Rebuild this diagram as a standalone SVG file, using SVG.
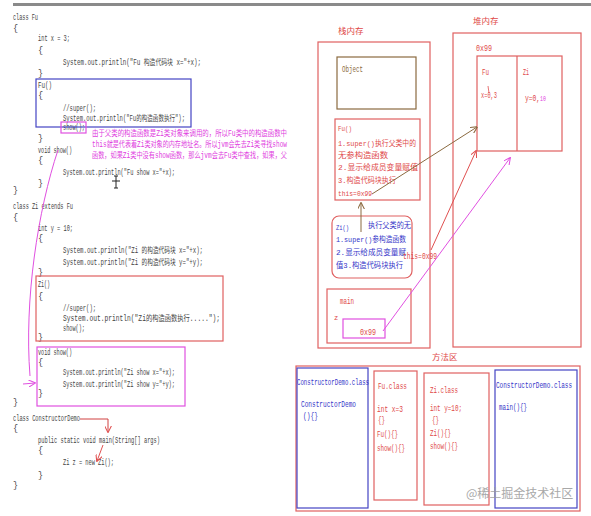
<svg xmlns="http://www.w3.org/2000/svg" width="591" height="516" viewBox="0 0 591 516">
<style>
.code{font-family:"Liberation Mono","Noto Sans CJK SC",monospace;font-size:8.5px;fill:#444}
.note{font-family:"Liberation Mono","Noto Sans CJK SC",monospace;font-size:8.5px;fill:#e040e0}
.rt{font-family:"Liberation Mono","Noto Sans CJK SC",monospace;font-size:9px;fill:#e04848}
.bt{font-family:"Liberation Mono","Noto Sans CJK SC",monospace;font-size:9px;fill:#3434c8}
.st{font-size:8px}
.lbl{font-family:"Noto Sans CJK SC",sans-serif;font-size:8.5px;fill:#e04848}
.rbox{fill:none;stroke:#e06060;stroke-width:1.2}
.bbox{fill:none;stroke:#4444c4;stroke-width:1.2}
.mbox{fill:none;stroke:#e050e0;stroke-width:1.2}
</style>
<defs>
<marker id="ar" viewBox="0 0 10 10" refX="9" refY="5" markerWidth="7" markerHeight="7" orient="auto"><path d="M0,0 L10,5 L0,10" fill="none" stroke="#e05050" stroke-width="1.5"/></marker>
<marker id="am" viewBox="0 0 10 10" refX="9" refY="5" markerWidth="7" markerHeight="7" orient="auto"><path d="M0,0 L10,5 L0,10" fill="none" stroke="#e050e0" stroke-width="1.5"/></marker>
<marker id="ab" viewBox="0 0 10 10" refX="9" refY="5" markerWidth="7" markerHeight="7" orient="auto"><path d="M0,0 L10,5 L0,10" fill="none" stroke="#8b6a40" stroke-width="1.5"/></marker>
</defs>
<rect x="0" y="0" width="591" height="516" fill="#fff"/>
<rect x="13" y="3" width="578" height="3" fill="#8a8a8a"/>

<g id="code">
<text class="code" x="13" y="20" textLength="25" lengthAdjust="spacingAndGlyphs">class Fu</text>
<text class="code" x="13" y="31">{</text>
<text class="code" x="38" y="41" textLength="32" lengthAdjust="spacingAndGlyphs">int x = 3;</text>
<text class="code" x="38" y="53">{</text>
<text class="code" x="63" y="65" textLength="138" lengthAdjust="spacingAndGlyphs">System.out.println("Fu  构造代码块  x="+x);</text>
<text class="code" x="38" y="76">}</text>
<text class="code" x="38" y="88" textLength="14" lengthAdjust="spacingAndGlyphs">Fu()</text>
<text class="code" x="38" y="98">{</text>
<text class="code" x="63" y="111" textLength="33" lengthAdjust="spacingAndGlyphs">//super();</text>
<text class="code" x="63" y="121" textLength="122" lengthAdjust="spacingAndGlyphs">System.out.println("Fu的构造函数执行");</text>
<text class="code" x="63" y="130" textLength="22" lengthAdjust="spacingAndGlyphs">show();</text>
<text class="code" x="38" y="141">}</text>
<text class="code" x="38" y="153" textLength="34" lengthAdjust="spacingAndGlyphs">void show()</text>
<text class="code" x="38" y="163">{</text>
<text class="code" x="63" y="175" textLength="112" lengthAdjust="spacingAndGlyphs">System.out.println("Fu show x="+x);</text>
<text class="code" x="38" y="186">}</text>
<text class="code" x="13" y="193">}</text>
<text class="code" x="13" y="209" textLength="60" lengthAdjust="spacingAndGlyphs">class Zi extends Fu</text>
<text class="code" x="13" y="220">{</text>
<text class="code" x="38" y="231" textLength="35" lengthAdjust="spacingAndGlyphs">int y = 10;</text>
<text class="code" x="38" y="241">{</text>
<text class="code" x="63" y="253" textLength="140" lengthAdjust="spacingAndGlyphs">System.out.println("Zi 的构造代码块  x="+x);</text>
<text class="code" x="63" y="265" textLength="140" lengthAdjust="spacingAndGlyphs">System.out.println("Zi 的构造代码块  y="+y);</text>
<text class="code" x="38" y="275">}</text>
<text class="code" x="38" y="287" textLength="12" lengthAdjust="spacingAndGlyphs">Zi()</text>
<text class="code" x="38" y="299">{</text>
<text class="code" x="63" y="311" textLength="33" lengthAdjust="spacingAndGlyphs">//super();</text>
<text class="code" x="63" y="321" textLength="157" lengthAdjust="spacingAndGlyphs">System.out.println("Zi的构造函数执行.....");</text>
<text class="code" x="63" y="331" textLength="22" lengthAdjust="spacingAndGlyphs">show();</text>
<text class="code" x="38" y="340">}</text>
<text class="code" x="38" y="355" textLength="34" lengthAdjust="spacingAndGlyphs">void show()</text>
<text class="code" x="38" y="365">{</text>
<text class="code" x="63" y="375" textLength="112" lengthAdjust="spacingAndGlyphs">System.out.println("Zi show x="+x);</text>
<text class="code" x="63" y="387" textLength="112" lengthAdjust="spacingAndGlyphs">System.out.println("Zi show y="+y);</text>
<text class="code" x="38" y="396">}</text>
<text class="code" x="13" y="405">}</text>
<text class="code" x="13" y="421" textLength="67" lengthAdjust="spacingAndGlyphs">class ConstructorDemo</text>
<text class="code" x="13" y="431">{</text>
<text class="code" x="38" y="443" textLength="122" lengthAdjust="spacingAndGlyphs">public static void main(String[] args)</text>
<text class="code" x="38" y="453">{</text>
<text class="code" x="63" y="465" textLength="51" lengthAdjust="spacingAndGlyphs">Zi z = new Zi();</text>
<text class="code" x="38" y="478">}</text>
<text class="code" x="13" y="488">}</text>
</g>

<g id="fu-constructor-box"><rect class="bbox" x="36" y="79" width="155" height="48" stroke="#4040b0"/></g>
<g id="show-call-box"><rect class="mbox" x="61" y="122" width="25" height="11"/></g>
<g id="zi-constructor-box"><rect class="rbox" x="36" y="276" width="187" height="65" stroke="#d04040"/></g>
<g id="zi-show-box"><rect class="mbox" x="37" y="347" width="148" height="59"/></g>

<g id="note">
<text class="note" x="92" y="136" textLength="195" lengthAdjust="spacingAndGlyphs">由于父类的构造函数是Zi类对象来调用的，所以Fu类中的构造函数中</text>
<text class="note" x="92" y="147" textLength="195" lengthAdjust="spacingAndGlyphs">this就是代表着Zi类对象的内存地址名。所以jvm会先去Zi类寻找show</text>
<text class="note" x="92" y="158" textLength="195" lengthAdjust="spacingAndGlyphs">函数，如果Zi类中没有show函数，那么jvm会去Fu类中查找，如果，父</text>
</g>

<g id="cursor" stroke="#222" stroke-width="1" fill="none">
<path d="M116,176 V188 M112,181 H120 M114,176 H118 M114,188 H118"/>
</g>

<g id="stack">
<text class="lbl" x="338" y="34">栈内存</text>
<rect class="rbox" x="318" y="42" width="112" height="306"/>
<g id="object-frame"><rect x="337" y="57" width="79" height="52" fill="none" stroke="#8b6a40" stroke-width="1.2"/><text x="342" y="72" textLength="21" lengthAdjust="spacingAndGlyphs" style="font-family:'Liberation Mono',monospace;font-size:9px;fill:#8b6a40">Object</text></g>
<g id="fu-frame">
<rect class="rbox" x="335" y="119" width="85" height="81"/>
<text class="rt st" x="338" y="131" textLength="14" lengthAdjust="spacingAndGlyphs">Fu()</text>
<text class="rt st" x="338" y="146" textLength="78" lengthAdjust="spacingAndGlyphs">1.super()执行父类中的</text>
<text class="rt st" x="338" y="158" textLength="50" lengthAdjust="spacingAndGlyphs">无参构造函数</text>
<text class="rt st" x="338" y="170" textLength="80" lengthAdjust="spacingAndGlyphs">2.显示给成员变量赋值</text>
<text class="rt st" x="338" y="183" textLength="58" lengthAdjust="spacingAndGlyphs">3.构造代码块执行</text>
<text class="rt st" x="338" y="196" textLength="34" lengthAdjust="spacingAndGlyphs">this=0x99</text>
</g>
<g id="zi-frame">
<rect x="332" y="216" width="80" height="62" rx="7" fill="none" stroke="#e06060" stroke-width="1.2"/>
<text class="bt st" x="336" y="230" textLength="13" lengthAdjust="spacingAndGlyphs">Zi()</text>
<text class="bt st" x="368" y="228" textLength="43" lengthAdjust="spacingAndGlyphs">执行父类的无</text>
<text class="bt st" x="336" y="242" textLength="70" lengthAdjust="spacingAndGlyphs">1.super()参构造函数</text>
<text class="bt st" x="336" y="255" textLength="70" lengthAdjust="spacingAndGlyphs">2.显示给成员变量赋</text>
<text class="bt st" x="336" y="268" textLength="67" lengthAdjust="spacingAndGlyphs">值3.构造代码块执行</text>
</g>
<text class="rt" x="403" y="259" textLength="34" lengthAdjust="spacingAndGlyphs">this=0x99</text>
<g id="main-frame">
<rect class="rbox" x="327" y="289" width="84" height="54"/>
<text class="rt" x="340" y="304" textLength="14" lengthAdjust="spacingAndGlyphs">main</text>
<text class="rt" x="334" y="320" style="font-size:7px">z</text>
<rect class="mbox" x="343" y="319" width="42" height="19"/>
<text class="rt" x="360" y="335" textLength="16" lengthAdjust="spacingAndGlyphs">0x99</text>
</g>
</g>

<g id="heap">
<text class="lbl" x="473" y="24">堆内存</text>
<rect class="rbox" x="453" y="33" width="128" height="314"/>
<text class="rt" x="476" y="51" textLength="16" lengthAdjust="spacingAndGlyphs">0x99</text>
<rect class="rbox" x="477" y="56" width="85" height="95"/>
<line x1="517" y1="56" x2="517" y2="151" stroke="#e06060" stroke-width="1.2"/>
<text class="rt" x="482" y="75" textLength="7" lengthAdjust="spacingAndGlyphs">Fu</text>
<text class="rt" x="481" y="98" textLength="16" lengthAdjust="spacingAndGlyphs">x=0,3</text>
<line x1="488" y1="86" x2="489" y2="93" stroke="#e05050" stroke-width="0.8"/>
<text class="rt" x="523" y="75" textLength="6" lengthAdjust="spacingAndGlyphs">Zi</text>
<text class="rt" x="525" y="101" textLength="21" lengthAdjust="spacingAndGlyphs">y=0,<tspan style="fill:#e040e0;font-size:7px">10</tspan></text>
</g>

<g id="method-area">
<text class="lbl" x="432" y="360">方法区</text>
<rect class="rbox" x="296" y="366" width="284" height="145"/>
<g id="cd-class-1">
<rect class="bbox" x="297" y="368" width="71" height="140"/>
<text class="bt" x="297" y="385" textLength="72" lengthAdjust="spacingAndGlyphs">ConstructorDemo.class</text>
<text class="bt" x="301" y="407" textLength="55" lengthAdjust="spacingAndGlyphs">ConstructorDemo</text>
<text class="bt" x="303" y="419" textLength="15" lengthAdjust="spacingAndGlyphs">(){}</text>
</g>
<g id="fu-class">
<rect class="rbox" x="374" y="371" width="43" height="129"/>
<text class="rt" x="378" y="389" textLength="29" lengthAdjust="spacingAndGlyphs">Fu.class</text>
<text class="rt" x="377" y="412" textLength="26" lengthAdjust="spacingAndGlyphs">int x=3</text>
<text class="rt" x="378" y="423" textLength="7" lengthAdjust="spacingAndGlyphs">{}</text>
<text class="rt" x="377" y="437" textLength="21" lengthAdjust="spacingAndGlyphs">Fu(){}</text>
<text class="rt" x="377" y="451" textLength="28" lengthAdjust="spacingAndGlyphs">show(){}</text>
</g>
<g id="zi-class">
<rect class="rbox" x="424" y="373" width="65" height="132"/>
<text class="rt" x="430" y="393" textLength="28" lengthAdjust="spacingAndGlyphs">Zi.class</text>
<text class="rt" x="430" y="411" textLength="32" lengthAdjust="spacingAndGlyphs">int y=10;</text>
<text class="rt" x="432" y="423" textLength="7" lengthAdjust="spacingAndGlyphs">{}</text>
<text class="rt" x="430" y="436" textLength="21" lengthAdjust="spacingAndGlyphs">Zi(){}</text>
<text class="rt" x="430" y="449" textLength="28" lengthAdjust="spacingAndGlyphs">show(){}</text>
</g>
<g id="cd-class-2">
<rect class="bbox" x="495" y="370" width="82" height="138"/>
<text class="bt" x="496" y="388" textLength="76" lengthAdjust="spacingAndGlyphs">ConstructorDemo.class</text>
<text class="bt" x="499" y="410" textLength="28" lengthAdjust="spacingAndGlyphs">main(){}</text>
</g>
</g>

<g id="connectors" fill="none">
<path d="M58,150 C38,210 24,300 30,376" stroke="#e050e0" stroke-width="1"/>
<path d="M23,384 L35,383" stroke="#e050e0" stroke-width="1" marker-end="url(#am)"/>
<path d="M80,419 H108 V432" stroke="#d04040" stroke-width="1" marker-end="url(#ar)"/>
<path d="M103,445 L97,461" stroke="#e05050" stroke-width="1" marker-end="url(#ar)"/>
<path d="M361,232 V203" stroke="#8b6a40" stroke-width="1" marker-end="url(#ab)"/>
<path d="M372,194 L477,127" stroke="#8b6a40" stroke-width="1" marker-end="url(#ab)"/>
<path d="M431,250 L476,151" stroke="#e05050" stroke-width="1" marker-end="url(#ar)"/>
<path d="M383,331 L510,158" stroke="#e050e0" stroke-width="1" marker-end="url(#am)"/>
</g>

<text x="466" y="498" style="font-family:'Noto Sans CJK SC',sans-serif;font-size:12px;fill:#9a9a9a;opacity:0.85">@稀土掘金技术社区</text>
</svg>
